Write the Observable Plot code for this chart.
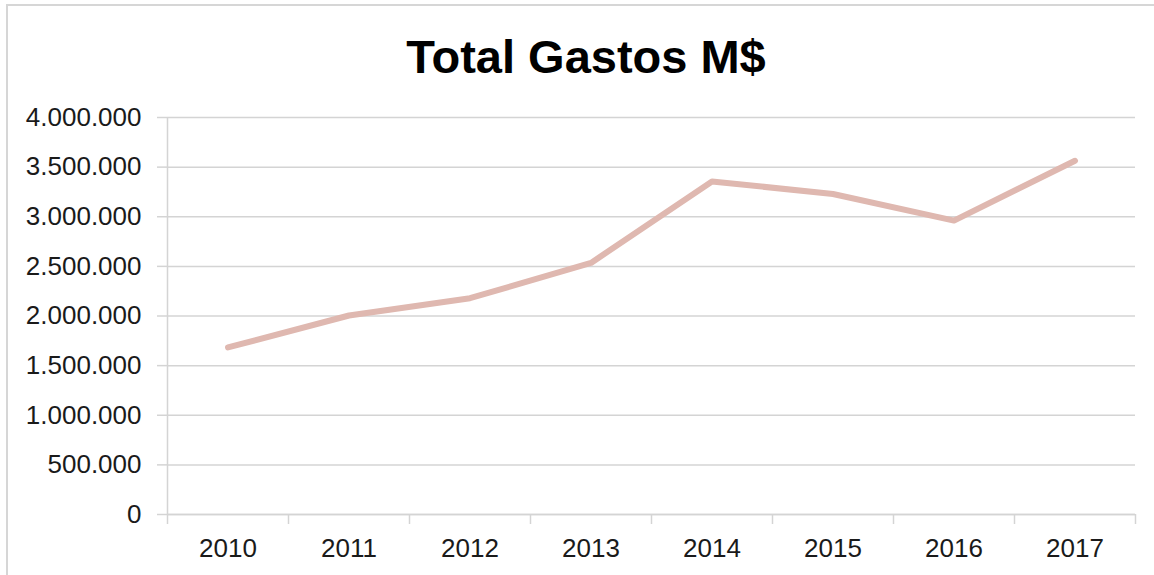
<!DOCTYPE html>
<html>
<head>
<meta charset="utf-8">
<script src="https://cdn.jsdelivr.net/npm/d3@7"></script>
<script src="https://cdn.jsdelivr.net/npm/@observablehq/plot@0.6"></script>
<style>
  html, body { margin: 0; padding: 0; background: #fff; overflow: hidden; }
  #wrap { position: relative; width: 1154px; height: 575px; overflow: hidden; }
  #border { position: absolute; left: 6px; top: 4px; width: 1300px; height: 800px;
            border-left: 2px solid #d6d6d6; border-top: 2px solid #d6d6d6; }
  #title { position: absolute; left: 0; top: 33px; width: 1172px; text-align: center;
           font-family: "Liberation Sans", Arial, sans-serif; font-weight: bold;
           font-size: 47px; line-height: 47px; color: #000; }
  #chart { position: absolute; left: 0; top: 0; }
</style>
</head>
<body>
<div id="wrap">
  <div id="border"></div>
  <div id="chart"></div>
  <div id="title"></div>
</div>
<script>
const title = "Total Gastos M$";
const years = [2010, 2011, 2012, 2013, 2014, 2015, 2016, 2017];
const gastos = [1683000, 2005000, 2179000, 2535000, 3356000, 3229000, 2961000, 3564000];
const yTicks = [0, 500000, 1000000, 1500000, 2000000, 2500000, 3000000, 3500000, 4000000];

document.getElementById("title").textContent = title;

const data = years.map((y, i) => ({year: y, value: gastos[i]}));
const boundaries = years.map(y => y - 0.5).concat([years[years.length - 1] + 0.5]);
const fmt = d3.formatLocale({decimal: ",", thousands: ".", grouping: [3], currency: ["", "$"]}).format(",");

const gridColor = "#d4d4d4";

const plot = Plot.plot({
  width: 1154,
  height: 575,
  marginLeft: 167,
  marginRight: 19,
  marginTop: 117,
  marginBottom: 61,
  style: {fontFamily: "'Liberation Sans', Arial, sans-serif", fontSize: "26px", color: "#1a1a1a", background: "transparent"},
  x: {type: "linear", domain: [boundaries[0], boundaries[boundaries.length - 1]]},
  y: {domain: [0, 4000000]},
  marks: [
    Plot.gridY(yTicks, {stroke: gridColor, strokeOpacity: 1, strokeWidth: 1.5}),
    Plot.axisY(yTicks, {tickSize: 10, tickPadding: 16, tickFormat: fmt, stroke: gridColor, strokeWidth: 1.5, fill: "#1a1a1a", label: null}),
    Plot.ruleX([boundaries[0]], {stroke: gridColor, strokeWidth: 1.5}),
    Plot.ruleY([0], {stroke: gridColor, strokeWidth: 1.5}),
    Plot.axisX(boundaries, {tickSize: 10, tickFormat: () => "", stroke: gridColor, strokeWidth: 1.5, label: null}),
    Plot.axisX(years, {tickSize: 0, tickPadding: 24, tickFormat: d => String(d), fill: "#1a1a1a", label: null}),
    Plot.line(data, {x: "year", y: "value", stroke: "#dfb8b0", strokeWidth: 6, strokeLinecap: "round", strokeLinejoin: "round"})
  ]
});
document.getElementById("chart").appendChild(plot);
</script>
</body>
</html>
